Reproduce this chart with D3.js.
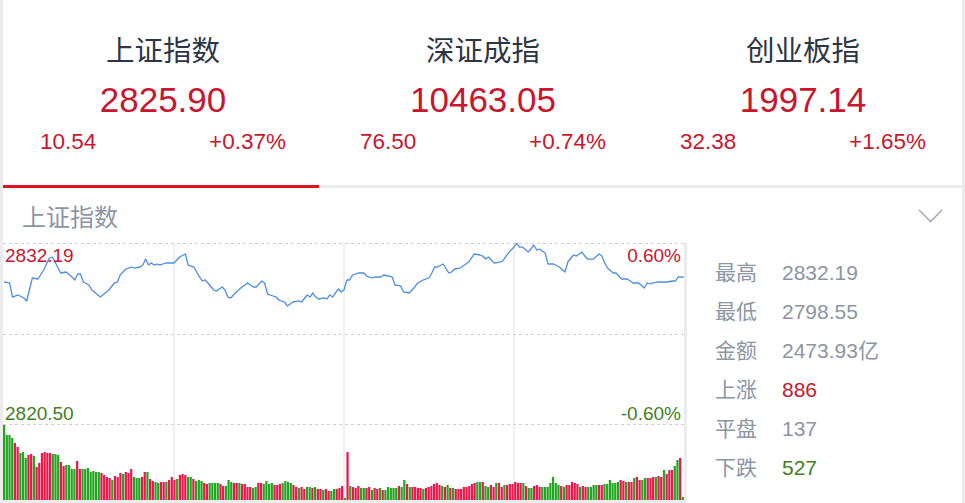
<!DOCTYPE html>
<html><head><meta charset="utf-8">
<script src="https://cdn.jsdelivr.net/npm/d3@7"></script>
<style>
html,body{margin:0;padding:0;background:#fff;}
svg{display:block;}
</style></head>
<body>
<div id="chart"></div>
<script>
// ---------- DATA ----------
const indexNames   = ["上证指数", "深证成指", "创业板指"];
const indexPrices  = ["2825.90", "10463.05", "1997.14"];
const indexChanges = ["10.54", "76.50", "32.38"];
const indexPcts    = ["+0.37%", "+0.74%", "+1.65%"];
const selectedIndex = "上证指数";

const prevClose = 2815.36;
const rangePct = 0.006;

// [minute since open, price]
const priceSeries = [
[0,2824.97],[2,2824.79],[3,2822.17],[5,2822.55],[7,2821.99],[8,2821.43],[10,2825.72],[12,2825.53],
[14,2827.21],[16,2829.45],[17,2829.64],[18,2828.70],[20,2826.65],[22,2826.84],[24,2825.91],[25,2825.35],
[26,2826.47],[27,2826.47],[28,2824.97],[30,2824.41],[31,2823.48],[34,2822.17],[37,2823.48],[39,2824.79],
[40,2824.97],[41,2826.28],[43,2827.40],[45,2827.77],[46,2827.58],[48,2827.77],[49,2828.14],[50,2829.26],
[51,2828.14],[52,2828.52],[53,2828.14],[54,2828.33],[55,2828.14],[57,2828.52],[59,2828.52],[60,2828.52],
[62,2829.64],[64,2830.20],[65,2828.14],[67,2827.77],[69,2825.91],[70,2825.16],[71,2825.35],[72,2824.79],
[74,2823.48],[75,2823.29],[77,2824.04],[78,2823.48],[79,2822.17],[80,2821.99],[82,2823.11],[84,2824.04],
[86,2824.79],[88,2824.04],[89,2824.04],[91,2825.16],[92,2824.79],[93,2822.73],[95,2822.36],[96,2822.17],
[97,2821.61],[99,2821.24],[100,2820.50],[102,2821.24],[104,2821.43],[105,2821.24],[107,2822.55],[108,2822.17],
[109,2822.92],[110,2822.17],[111,2821.80],[113,2821.99],[114,2821.80],[115,2822.55],[116,2822.17],[117,2822.92],
[118,2823.67],[119,2823.11],[120,2823.48],[121,2825.35],[122,2825.35],[123,2826.28],[125,2826.65],[127,2826.65],
[128,2826.09],[130,2825.72],[131,2825.91],[133,2825.91],[134,2826.28],[137,2825.91],[138,2824.41],[140,2824.23],
[141,2823.11],[143,2822.92],[145,2824.04],[146,2824.79],[148,2825.35],[150,2825.72],[151,2826.65],[152,2827.77],
[153,2827.77],[155,2828.33],[157,2826.65],[158,2826.84],[159,2827.40],[161,2827.58],[163,2828.33],[164,2828.70],
[166,2830.20],[168,2830.01],[169,2829.82],[170,2829.26],[171,2829.64],[172,2829.08],[173,2828.52],[175,2828.70],
[176,2828.89],[178,2830.38],[180,2831.50],[181,2832.19],[182,2831.50],[183,2831.50],[185,2830.57],[186,2831.13],
[187,2831.88],[188,2830.94],[189,2831.13],[191,2830.38],[192,2828.33],[194,2828.33],[196,2827.77],[198,2826.84],
[199,2828.70],[201,2830.01],[202,2829.82],[204,2830.57],[205,2829.82],[206,2829.26],[208,2829.26],[210,2830.20],
[211,2829.82],[212,2828.52],[213,2827.58],[215,2826.65],[216,2826.65],[218,2825.53],[220,2825.53],[222,2824.79],
[223,2824.79],[224,2824.79],[226,2823.85],[227,2824.79],[228,2824.60],[229,2824.79],[231,2824.97],[232,2824.97],
[234,2824.97],[236,2825.16],[237,2825.16],[238,2825.91],[240,2825.90]
];

// per-minute volume (relative units), morning then afternoon
const volumes = [
75,65,65,62,57,53,47,48,42,45, 46,44,33,37,47,48,47,47,46,46, 45,38,34,35,35,31,31,39,31,31,
31,32,28,29,28,28,27,25,23,22, 20,24,23,27,26,28,27,31,23,22, 22,23,28,28,21,19,18,17,18,18,
18,20,23,20,21,25,26,25,23,23, 21,19,20,19,17,16,17,17,17,17, 16,14,14,20,18,17,17,17,16,16,
13,13,12,13,17,17,16,19,16,17, 15,15,16,17,19,18,17,15,13,12, 13,11,13,13,12,13,11,11,10,11,
9,9,11,11,12,14,2,
48,14,13,12,14,12,12,12,13,10, 12,11,12,10,10,13,12,12,12,14, 13,20,16,13,13,13,12,12,11,12,
13,14,16,17,15,14,13,15,12,12, 11,11,11,13,13,14,16,17,18,18, 18,14,13,15,13,17,17,13,15,15,
16,16,18,17,17,17,14,12,12,14, 15,13,13,13,13,17,23,17,15,14, 13,15,15,18,17,16,13,14,13,13,
13,15,15,15,15,16,16,20,17,17, 18,20,19,18,18,18,22,23,20,20, 22,22,22,23,23,24,23,30,26,30,
30,34,40,42,3
];
// u = up minute (red), d = down minute (green)
const volumeDirs =
 "dddduudddu" + "uduuuuuudd" + "duudddduud" + "dddddduuuu" + "duuuduuudd" +
 "duuduudduu" + "duuuduuudd" + "uddduudddd" + "uuddduuduu" + "uudduudddd" +
 "uuudddduud" + "uudduduudu" + "udduuud" +
 "uduuudduud" + "uududddddu" + "dduduuuudu" + "uuuuududud" + "uuuuuuuudd" +
 "udduuduudu" + "uuuuududdu" + "uudddddddu" + "duuuuuduud" + "ddduuddddd" +
 "duuduuduud" + "duuuduuduu" + "uddud";

const statLabels = ["最高", "最低", "金额", "上涨", "平盘", "下跌"];
const statValues = ["2832.19", "2798.55", "2473.93亿", "886", "137", "527"];
const statTones  = ["n", "n", "n", "up", "n", "down"];

// ---------- STYLE ----------
const W = 965, H = 503;
const RED = "#c8162e", GREEN = "#437f1e", GRAY = "#8b95a3";
const BAR_RED = "#e6184c", BAR_GREEN = "#22a622";
const NUM_FONT = "'Liberation Sans', Arial, 'Noto Sans CJK SC', sans-serif";
const CJK_FONT = "'Noto Sans CJK SC', 'Liberation Sans', sans-serif";

const svg = d3.select("#chart").append("svg").attr("width", W).attr("height", H);
svg.append("rect").attr("width", W).attr("height", H).attr("fill", "#fff");
// side strips
svg.append("rect").attr("x", 0).attr("y", 0).attr("width", 3).attr("height", H).attr("fill", "#ececec");
svg.append("rect").attr("x", W - 3).attr("y", 0).attr("width", 3).attr("height", H).attr("fill", "#ececec");

// ---------- HEADER ----------
const colW = 320, col0 = 3;
const cols = svg.append("g").selectAll("g").data(indexNames).join("g")
  .attr("transform", (d, i) => `translate(${col0 + i * colW},0)`);
cols.append("text").attr("x", 160).attr("y", 61).attr("text-anchor", "middle")
  .attr("font-family", CJK_FONT).attr("font-size", 28.5).attr("fill", "#2d3545").text(d => d);
cols.append("text").attr("x", 160).attr("y", 112).attr("text-anchor", "middle")
  .attr("font-family", NUM_FONT).attr("font-size", 35).attr("fill", RED).text((d, i) => indexPrices[i]);
cols.append("text").attr("x", 37).attr("y", 149)
  .attr("font-family", NUM_FONT).attr("font-size", 22.5).attr("fill", RED).text((d, i) => indexChanges[i]);
cols.append("text").attr("x", 283).attr("y", 149).attr("text-anchor", "end")
  .attr("font-family", NUM_FONT).attr("font-size", 22.5).attr("fill", RED).text((d, i) => indexPcts[i]);

// tab underline
svg.append("rect").attr("x", 3).attr("y", 185).attr("width", W - 6).attr("height", 3).attr("fill", "#ececec");
svg.append("rect").attr("x", 3).attr("y", 185).attr("width", 316).attr("height", 3).attr("fill", "#de1420");

// sub header
svg.append("text").attr("x", 22).attr("y", 226).attr("font-family", CJK_FONT)
  .attr("font-size", 24).attr("fill", GRAY).text(selectedIndex);
svg.append("path").attr("d", "M919,210 L930.5,221.5 L942,210").attr("fill", "none")
  .attr("stroke", "#9aa3ae").attr("stroke-width", 1.3);

// ---------- CHART ----------
const x = d3.scaleLinear().domain([0, 240]).range([4, 684]);
const yLo = prevClose * (1 - rangePct), yHi = prevClose * (1 + rangePct);
const y = d3.scaleLinear().domain([yLo, yHi]).range([424, 243]);
const chartBottom = 500;

const grid = svg.append("g");
grid.selectAll("line.v").data([60, 120, 180]).join("line").attr("class", "v")
  .attr("x1", d => x(d)).attr("x2", d => x(d)).attr("y1", 243).attr("y2", chartBottom)
  .attr("stroke", "#ebebeb").attr("stroke-width", 1.5);
grid.selectAll("line.h").data([yHi, prevClose, yLo]).join("line").attr("class", "h")
  .attr("x1", 3).attr("x2", 684).attr("y1", d => Math.round(y(d)) + 0.5).attr("y2", d => Math.round(y(d)) + 0.5)
  .attr("stroke", "#cfcfcf").attr("stroke-dasharray", "3,3");
svg.append("rect").attr("x", 684).attr("y", 243).attr("width", 3).attr("height", H - 243).attr("fill", "#ececec");
svg.append("rect").attr("x", 0).attr("y", chartBottom).attr("width", 687).attr("height", H - chartBottom).attr("fill", "#ececec");

// volume bars
const n = volumes.length;
const xb = d3.scaleBand().domain(d3.range(n)).range([3, 684]).paddingInner(0.18);
const yv = d3.scaleLinear().domain([0, d3.max(volumes)]).range([chartBottom, 425]);
svg.append("g").selectAll("rect").data(volumes).join("rect")
  .attr("x", (d, i) => xb(i)).attr("width", xb.bandwidth())
  .attr("y", d => yv(d)).attr("height", d => chartBottom - yv(d))
  .attr("fill", (d, i) => volumeDirs[i] === "u" ? BAR_RED : BAR_GREEN);

// price line
const line = d3.line().x(d => x(d[0])).y(d => y(d[1]));
svg.append("path").datum(priceSeries).attr("d", line).attr("fill", "none")
  .attr("stroke", "#4f8edf").attr("stroke-width", 1.3).attr("stroke-linejoin", "round");

// axis labels
const fmt = d3.format(".2f");
const pmax = d3.max(priceSeries, d => d[1]), pmin = d3.min(priceSeries, d => d[1]);
const labels = svg.append("g").attr("font-family", NUM_FONT).attr("font-size", 19);
labels.append("text").attr("x", 5).attr("y", 262).attr("fill", RED).text(fmt(pmax));
labels.append("text").attr("x", 681).attr("y", 262).attr("text-anchor", "end").attr("fill", RED)
  .text(fmt(rangePct * 100) + "%");
labels.append("text").attr("x", 5).attr("y", 420).attr("fill", GREEN).text(fmt(pmin));
labels.append("text").attr("x", 681).attr("y", 420).attr("text-anchor", "end").attr("fill", GREEN)
  .text("-" + fmt(rangePct * 100) + "%");

// ---------- STATS PANEL ----------
const stats = svg.append("g").selectAll("g").data(statLabels).join("g")
  .attr("transform", (d, i) => `translate(0,${280 + i * 39})`);
stats.append("text").attr("x", 715).attr("font-family", CJK_FONT).attr("font-size", 21)
  .attr("fill", GRAY).text(d => d);
stats.append("text").attr("x", 782).attr("font-family", NUM_FONT).attr("font-size", 21)
  .attr("fill", (d, i) => statTones[i] === "up" ? RED : statTones[i] === "down" ? GREEN : GRAY)
  .text((d, i) => statValues[i]);
</script>
</body></html>
